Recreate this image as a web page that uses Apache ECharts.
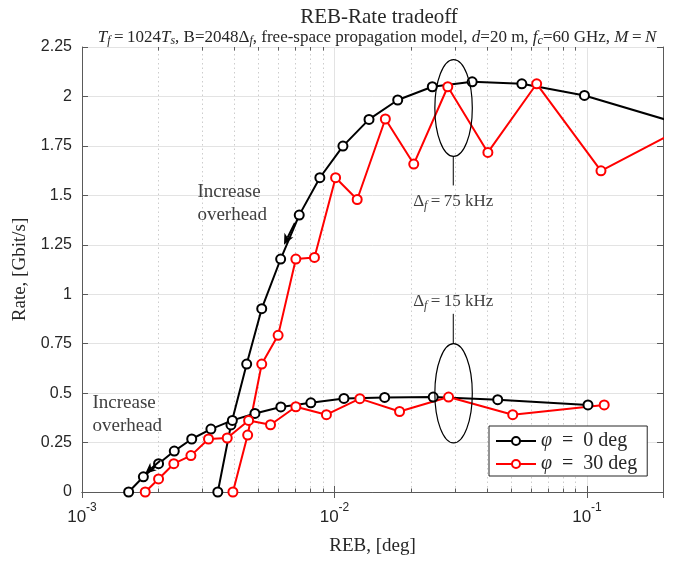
<!DOCTYPE html>
<html>
<head>
<meta charset="UTF-8">
<title>REB-Rate tradeoff</title>
<style>
  body { margin: 0; padding: 0; background: #fff; }
  #chart { width: 678px; height: 561px; }
</style>
</head>
<body>
<div id="chart"></div>
<script src="https://cdn.jsdelivr.net/npm/echarts@6/dist/echarts.min.js"></script>
<script>
// delta_f = 75 kHz
var reb75_phi0  = [0.00345, 0.00389, 0.00449, 0.00515, 0.00612, 0.00725, 0.00875, 0.0108, 0.0137, 0.0178, 0.0244, 0.0351, 0.0552, 0.0977, 0.25];
var rate75_phi0 = [0, 0.339, 0.647, 0.927, 1.178, 1.400, 1.589, 1.749, 1.884, 1.982, 2.049, 2.074, 2.064, 2.005, 1.85];
var reb75_phi30  = [0.00396, 0.00453, 0.00515, 0.00598, 0.00703, 0.00833, 0.0101, 0.0123, 0.0159, 0.0206, 0.0281, 0.0405, 0.0632, 0.1136, 0.22];
var rate75_phi30 = [0, 0.288, 0.647, 0.792, 1.178, 1.186, 1.589, 1.479, 1.886, 1.658, 2.049, 1.717, 2.064, 1.624, 1.815];
// delta_f = 15 kHz
var reb15_phi0  = [0.00153, 0.00175, 0.00201, 0.00232, 0.00272, 0.00324, 0.00394, 0.00484, 0.00613, 0.00806, 0.0109, 0.0158, 0.0246, 0.0443, 0.1009];
var rate15_phi0 = [0, 0.077, 0.143, 0.207, 0.268, 0.318, 0.362, 0.397, 0.430, 0.451, 0.473, 0.478, 0.480, 0.467, 0.440];
var reb15_phi30  = [0.00178, 0.00201, 0.00231, 0.0027, 0.00317, 0.00376, 0.00457, 0.00558, 0.00703, 0.00929, 0.0126, 0.0181, 0.0283, 0.0508, 0.117];
var rate15_phi30 = [0, 0.066, 0.143, 0.184, 0.268, 0.273, 0.362, 0.340, 0.431, 0.391, 0.472, 0.407, 0.480, 0.391, 0.440];

var legendNames = ['φ = 0 deg', 'φ = 30 deg'];
var xMin = 0.001, xMax = 0.2;
var yMin = 0, yMax = 2.25, yStep = 0.25;
var minorGrid = [0.002, 0.003, 0.004, 0.005, 0.006, 0.007, 0.008, 0.009,
                 0.02, 0.03, 0.04, 0.05, 0.06, 0.07, 0.08, 0.09];

var serif = '"Liberation Serif", "DejaVu Serif", serif';
var sans = '"Liberation Sans", Arial, sans-serif';
var axisColor = '#5a5a5a';
var ink = '#262626';

function pairs(xs, ys) {
  return xs.map(function (x, i) { return [x, ys[i]]; });
}

function curve(name, color, xs, ys) {
  return {
    name: name,
    type: 'line',
    data: pairs(xs, ys),
    symbol: 'emptyCircle',
    symbolSize: 9,
    lineStyle: { color: color, width: 2 },
    itemStyle: { color: color, borderColor: color, borderWidth: 2 },
    clip: true,
    z: 5
  };
}

var chart = echarts.init(document.getElementById('chart'));

var sub = { fontSize: 12, fontStyle: 'italic', verticalAlign: 'bottom', lineHeight: 15, fontFamily: serif, color: ink };

chart.setOption({
  animation: false,
  backgroundColor: '#fff',
  title: [{
    text: 'REB-Rate tradeoff',
    left: 374, top: 2, textAlign: 'center',
    textStyle: { fontFamily: serif, fontSize: 21, fontWeight: 'normal', color: ink }
  }, {
    text: '{i|T}{s|f}{n|\u2009=\u20091024}{i|T}{s2|s}{n|, B=2048Δ}{s|f}{n|, free-space propagation model, }{i|d}{n|=20 m, }{i|f}{s2|c}{n|=60 GHz, }{i|M}{n|\u2009=\u2009}{i|N}',
    left: 372, top: 23, textAlign: 'center',
    textStyle: {
      fontFamily: serif, fontSize: 17, fontWeight: 'normal', color: ink,
      rich: {
        n: { fontFamily: serif, fontSize: 17, lineHeight: 19, color: ink },
        i: { fontFamily: serif, fontSize: 17, fontStyle: 'italic', lineHeight: 19, color: ink },
        s: sub,
        s2: sub
      }
    }
  }],
  legend: {
    data: legendNames,
    orient: 'vertical',
    left: 489, top: 426,
    padding: [5, 10, 2, 6],
    itemGap: 3,
    itemWidth: 40, itemHeight: 10,
    backgroundColor: '#fff',
    borderColor: ink, borderWidth: 1, borderRadius: 0,
    formatter: function (name) { return name.replace('φ', '{i|φ}').replace(' = ', '\u2002=\u2002'); },
    textStyle: {
      fontFamily: serif, fontSize: 20, color: ink,
      rich: { i: { fontFamily: serif, fontSize: 20, fontStyle: 'italic', color: ink } }
    }
  },
  grid: { left: 82, right: 15, top: 47, bottom: 69, containLabel: false },
  xAxis: [{
    type: 'log', logBase: 10, min: xMin, max: xMax,
    name: 'REB, [deg]', nameLocation: 'middle', nameGap: 45,
    nameTextStyle: { fontFamily: serif, fontSize: 19, color: ink },
    axisLine: { lineStyle: { color: axisColor, width: 1 } },
    axisTick: { inside: true, length: 6, lineStyle: { color: axisColor } },
    splitLine: { show: true, lineStyle: { color: '#e3e3e3', width: 1 } },
    axisLabel: {
      margin: 10,
      formatter: function (v) {
        var e = Math.round(Math.log10(v));
        if (Math.abs(Math.log10(v) - e) > 1e-6) return '';
        return '{b|10}{e|' + e + '}';
      },
      rich: {
        b: { fontFamily: sans, fontSize: 17, color: ink, verticalAlign: 'bottom', lineHeight: 24 },
        e: { fontFamily: sans, fontSize: 12, color: ink, verticalAlign: 'top', lineHeight: 14 }
      }
    }
  }, {
    type: 'log', logBase: 10, min: xMin, max: xMax, position: 'top',
    axisLine: { lineStyle: { color: axisColor, width: 1 } },
    axisTick: { inside: true, length: 6, lineStyle: { color: axisColor } },
    axisLabel: { show: false },
    splitLine: { show: false }
  }],
  yAxis: [{
    type: 'value', min: yMin, max: yMax, interval: yStep,
    name: 'Rate, [Gbit/s]', nameLocation: 'middle', nameGap: 43,
    nameTextStyle: { fontFamily: serif, fontSize: 19, color: ink },
    axisLine: { show: true, lineStyle: { color: axisColor, width: 1 } },
    axisTick: { show: true, inside: true, length: 6, lineStyle: { color: axisColor } },
    splitLine: { show: true, lineStyle: { color: '#e3e3e3', width: 1 } },
    axisLabel: { fontFamily: sans, fontSize: 16, color: ink, margin: 10 }
  }, {
    type: 'value', min: yMin, max: yMax, interval: yStep, position: 'right',
    axisLine: { show: true, lineStyle: { color: axisColor, width: 1 } },
    axisTick: { show: true, inside: true, length: 6, lineStyle: { color: axisColor } },
    axisLabel: { show: false },
    splitLine: { show: false }
  }],
  series: [
    curve(legendNames[0], '#000', reb75_phi0, rate75_phi0),
    curve(legendNames[1], '#ff0000', reb75_phi30, rate75_phi30),
    curve(legendNames[0], '#000', reb15_phi0, rate15_phi0),
    curve(legendNames[1], '#ff0000', reb15_phi30, rate15_phi30)
  ]
});

// annotations and minor log grid, placed in data coordinates
function px(x, y) { return chart.convertToPixel({ xAxisIndex: 0, yAxisIndex: 0 }, [x, y]); }

function seg(a, b, style, z) {
  return { type: 'line', silent: true, z: z, shape: { x1: a[0], y1: a[1], x2: b[0], y2: b[1] }, style: style };
}
function ellipseAt(xl, xr, yb, yt) {
  var a = px(xl, yb), b = px(xr, yt);
  return {
    type: 'ellipse', silent: true, z: 10,
    shape: { cx: (a[0] + b[0]) / 2, cy: (a[1] + b[1]) / 2, rx: Math.abs(b[0] - a[0]) / 2, ry: Math.abs(a[1] - b[1]) / 2 },
    style: { fill: null, stroke: '#000', lineWidth: 1.2 }
  };
}
function stem(x, y1, y2) {
  return seg(px(x, y1), px(x, y2), { stroke: '#000', lineWidth: 1 }, 10);
}
function label(x, y, text, size, align) {
  var p = px(x, y);
  return {
    type: 'text', silent: true, z: 10, x: p[0], y: p[1],
    style: {
      text: text, fill: '#404040', font: size + 'px ' + serif,
      align: align || 'center', verticalAlign: 'middle', lineHeight: 23,
      rich: {
        n: { fontFamily: serif, fontSize: size, fill: '#404040', lineHeight: 21 },
        s: { fontFamily: serif, fontSize: size - 5, fontStyle: 'italic', fill: '#404040', verticalAlign: 'bottom', lineHeight: 14 }
      }
    }
  };
}
function arrow(x1, y1, x2, y2) {
  var a = px(x1, y1), b = px(x2, y2);
  var dx = b[0] - a[0], dy = b[1] - a[1], len = Math.sqrt(dx * dx + dy * dy);
  var ux = dx / len, uy = dy / len, hl = 11, hw = 5;
  var bx = b[0] - ux * hl, by = b[1] - uy * hl;
  return [
    seg(a, [bx + ux * 3, by + uy * 3], { stroke: '#000', lineWidth: 2 }, 10),
    {
      type: 'polygon', silent: true, z: 10,
      shape: { points: [[b[0], b[1]], [bx - uy * hw, by + ux * hw], [bx + ux * 3, by + uy * 3], [bx + uy * hw, by - ux * hw]] },
      style: { fill: '#000' }
    }
  ];
}

var g = [];
minorGrid.forEach(function (v) {
  var lo = px(v, yMin), hi = px(v, yMax);
  var x = Math.round(lo[0]) + 0.5;
  g.push(seg([x, lo[1]], [x, hi[1]], { stroke: '#cdcdcd', lineWidth: 1, lineDash: [1.5, 3] }, 1));
  g.push(seg([x, lo[1]], [x, lo[1] - 3.5], { stroke: axisColor, lineWidth: 1 }, 2));
  g.push(seg([x, hi[1]], [x, hi[1] + 3.5], { stroke: axisColor, lineWidth: 1 }, 2));
});

g = g.concat([
  ellipseAt(0.02497, 0.03514, 1.697, 2.186),
  stem(0.02954, 1.697, 1.55),
  label(0.02954, 1.469, '{n|Δ}{s|f}{n|\u2009=\u200975 kHz}', 17),
  ellipseAt(0.02497, 0.03514, 0.248, 0.750),
  stem(0.02954, 0.750, 0.901),
  label(0.02954, 0.964, '{n|Δ}{s|f}{n|\u2009=\u200915 kHz}', 17),
  label(0.002864, 1.461, 'Increase\noverhead', 19, 'left'),
  label(0.0011, 0.391, 'Increase\noverhead', 19, 'left')
], arrow(0.00697, 1.361, 0.00631, 1.250), arrow(0.002039, 0.158, 0.001779, 0.0925));

chart.setOption({ graphic: g });
</script>
</body>
</html>
